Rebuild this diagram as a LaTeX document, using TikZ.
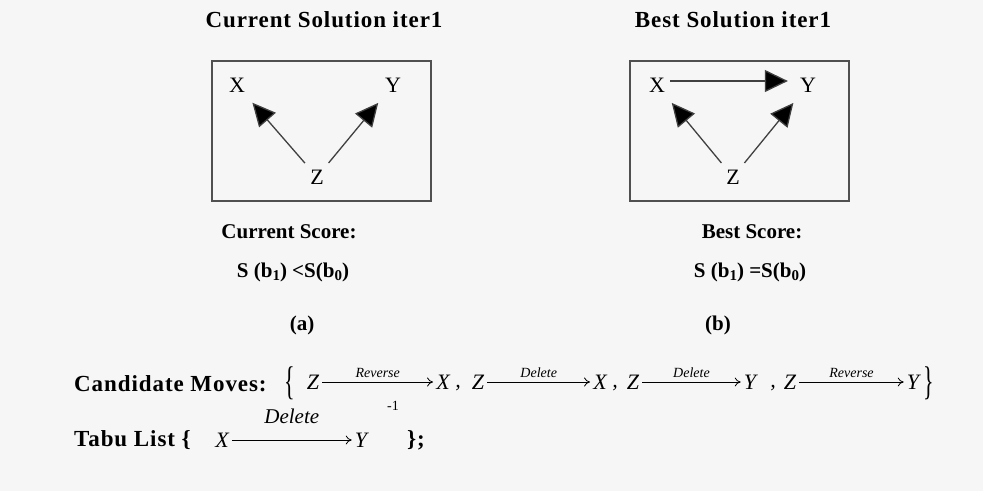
\documentclass[tikz,border=0pt]{standalone}
\usepackage{fontspec}
\setmainfont{Liberation Serif}
\newfontfamily\spacedfont[LetterSpace=4]{Liberation Serif}
\usepackage{tikz}
\usetikzlibrary{arrows.meta, positioning}
\definecolor{bggray}{RGB}{246,246,246}
\definecolor{framegray}{RGB}{80,80,80}
\newcommand{\lowidx}[1]{\raisebox{-3pt}{\fontsize{15}{15}\selectfont #1}}
\newcommand{\tallbrace}[1]{\scalebox{0.55}[1]{\fontsize{40}{40}\selectfont #1}}
\tikzset{
  titlelbl/.style={font=\fontsize{23}{26}\selectfont\spacedfont\bfseries, inner sep=1pt},
  scorelbl/.style={font=\fontsize{21}{24}\selectfont\bfseries, inner sep=1pt},
  varnode/.style={font=\fontsize{22}{24}\selectfont, inner sep=2pt},
  boxframe/.style={draw=framegray, line width=1.8pt},
  bigarrow/.style={-{Triangle[length=23pt, width=22pt, fill=black]}, line width=1.3pt, draw=black!75},
  movehead/.style={font=\fontsize{23}{26}\selectfont\spacedfont\bfseries, inner sep=1pt},
  moveletter/.style={font=\fontsize{22}{24}\selectfont\itshape, inner sep=3pt},
  movearrow/.style={-{To[length=6pt, width=9pt]}, line width=0.8pt},
  movelbl/.style={font=\fontsize{14}{16}\selectfont\itshape, above, inner sep=4pt},
  tabulbl/.style={font=\fontsize{21}{22}\selectfont\itshape, above, inner sep=2pt, yshift=14pt},
  bracenode/.style={inner sep=0pt, font=\fontsize{40}{40}\selectfont},
}

\begin{document}
\begin{tikzpicture}[x=1pt, y=-1pt]
  \fill[bggray] (0,0) rectangle (983,491);
  \useasboundingbox (0,0) rectangle (983,491);

  % titles
  \node[titlelbl] (titleA) at (324,20) {Current Solution iter1};
  \node[titlelbl] (titleB) at (733,20) {Best Solution iter1};

  % (a) current solution
  \draw[boxframe] (212,61) rectangle (431,201);
  \node[varnode] (xa) at (237,85) {X};
  \node[varnode] (ya) at (393,85) {Y};
  \node[varnode] (za) at (317,177) {Z};
  \draw[bigarrow, shorten <=6pt, shorten >=11pt] (za) -- (xa);
  \draw[bigarrow, shorten <=6pt, shorten >=11pt] (za) -- (ya);

  % (b) best solution
  \draw[boxframe] (630,61) rectangle (849,201);
  \node[varnode] (xb) at (657,85) {X};
  \node[varnode] (yb) at (808,85) {Y};
  \node[varnode] (zb) at (733,177) {Z};
  \draw[bigarrow, shorten <=3pt, shorten >=10pt] ([yshift=4pt]xb.east) -- ([yshift=4pt]yb.west);
  \draw[bigarrow, shorten <=6pt, shorten >=11pt] (zb) -- (xb);
  \draw[bigarrow, shorten <=6pt, shorten >=11pt] (zb) -- (yb);

  % scores
  \node[scorelbl] (scoreA) at (289,232) {Current Score:};
  \node[scorelbl] (valA) at (293,272) {S (b\lowidx{1}) <S(b\lowidx{0})};
  \node[scorelbl] (scoreB) at (752,232) {Best Score:};
  \node[scorelbl] (valB) at (750,272) {S (b\lowidx{1}) =S(b\lowidx{0})};
  \node[scorelbl] (capA) at (302,325) {(a)};
  \node[scorelbl] (capB) at (718,325) {(b)};

  % candidate moves
  \node[movehead, anchor=west] (cand) at (73,384) {Candidate Moves:};
  \node[bracenode] (lbrace) at (290,383) {\tallbrace{\{}};
  \node[moveletter] (z1) at (313,382) {Z};
  \node[moveletter] (x1) at (443,382) {X};
  \node[moveletter] (k1) at (458,388) {,};
  \node[moveletter] (z2) at (478,382) {Z};
  \node[moveletter] (x2) at (600,382) {X};
  \node[moveletter] (k2) at (615,388) {,};
  \node[moveletter] (z3) at (633,382) {Z};
  \node[moveletter] (y3) at (750,382) {Y};
  \node[moveletter] (k3) at (773,388) {,};
  \node[moveletter] (z4) at (790,382) {Z};
  \node[moveletter] (y4) at (913,382) {Y};
  \node[bracenode] (rbrace) at (929,383) {\tallbrace{\}}};
  \draw[movearrow] (z1) -- node[movelbl] {Reverse} (x1);
  \draw[movearrow] (z2) -- node[movelbl] {Delete} (x2);
  \draw[movearrow] (z3) -- node[movelbl] {Delete} (y3);
  \draw[movearrow] (z4) -- node[movelbl] {Reverse} (y4);

  % tabu list
  \node[movehead, anchor=west] (tabu) at (73,440) {Tabu List \{};
  \node[moveletter] (xt) at (222,440) {X};
  \node[moveletter] (yt) at (361,440) {Y};
  \draw[movearrow] (xt) -- node[tabulbl] {Delete} (yt);
  \node[font=\fontsize{14}{16}\selectfont, inner sep=1pt] (inv) at (393,406) {-1};
  \node[movehead] (tabuend) at (416,440) {\};};
\end{tikzpicture}
\end{document}
